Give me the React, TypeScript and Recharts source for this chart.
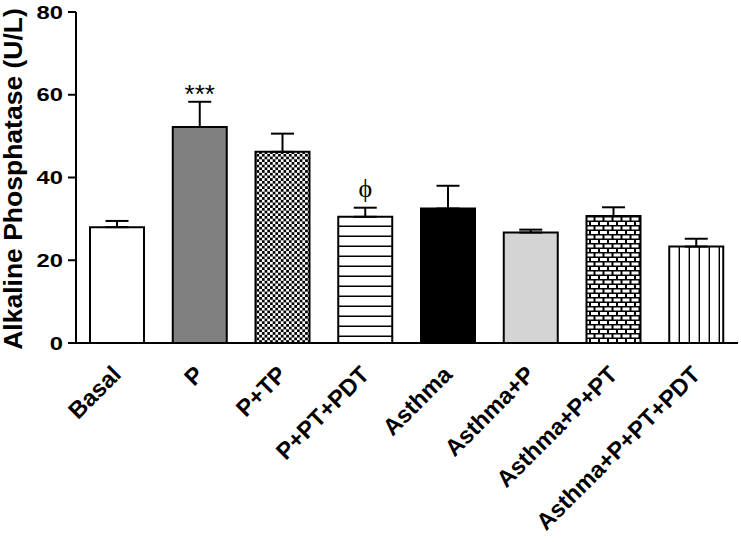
import React from 'react';
import { BarChart, Bar, XAxis, YAxis, Cell, ErrorBar, LabelList } from 'recharts';

const categories = ['Basal', 'P', 'P+TP', 'P+PT+PDT', 'Asthma', 'Asthma+P', 'Asthma+P+PT', 'Asthma+P+PT+PDT'];
const means = [28.0, 52.2, 46.2, 30.5, 32.5, 26.7, 30.7, 23.3];
const sems = [1.5, 6.1, 4.4, 2.2, 5.5, 0.7, 2.1, 1.9];
const annotations = ['', '***', '', '\u03D5', '', '', '', ''];
const yTicks = [0, 20, 40, 60, 80];

const fills = [
  '#ffffff',
  '#808080',
  'url(#checker)',
  'url(#hlines)',
  '#000000',
  '#d4d4d4',
  'url(#brick)',
  'url(#vlines)',
];

const data = categories.map((c, i) => ({
  name: c,
  mean: means[i],
  err: [0, sems[i]],
  ann: annotations[i],
}));

const FONT = '"Liberation Sans", Arial, Helvetica, sans-serif';

const YTick = (props: any) => {
  const { x, y, payload } = props;
  return (
    <text
      transform={`translate(${x},${y}) scale(1.25,1)`}
      textAnchor="end"
      dy="0.35em"
      fontSize={19}
      fontWeight="bold"
      fontFamily={FONT}
      fill="#000"
    >
      {payload.value}
    </text>
  );
};

const XTick = (props: any) => {
  const { x, y, payload } = props;
  return (
    <text
      transform={`translate(${x + 5},${y + 25}) rotate(-45)`}
      textAnchor="end"
      fontSize={23.5}
      fontWeight="bold"
      fontFamily={FONT}
      fill="#000"
    >
      {payload.value}
    </text>
  );
};

const YLabel = (props: any) => {
  const { viewBox } = props;
  const cx = viewBox.x + 22;
  const cy = viewBox.y + viewBox.height / 2 + 1.5;
  return (
    <text
      x={cx}
      y={cy}
      transform={`rotate(-90, ${cx}, ${cy})`}
      textAnchor="middle"
      fontSize={26.5}
      fontWeight="bold"
      fontFamily={FONT}
      fill="#000"
    >
      Alkaline Phosphatase (U/L)
    </text>
  );
};

const AnnLabel = (props: any) => {
  const { x, y, width, height, value, index } = props;
  if (!value) return null;
  const pxPerUnit = height / means[index];
  const errTop = y - sems[index] * pxPerUnit;
  const isStar = value === '***';
  return (
    <text
      x={x + width / 2}
      y={isStar ? errTop + 1 : errTop - 11}
      textAnchor="middle"
      fontSize={26}
      fontFamily={isStar ? FONT : '"Liberation Serif", "DejaVu Serif", serif'}
      fill="#000"
    >
      {value}
    </text>
  );
};

export default function App() {
  return (
    <div style={{ position: 'absolute', left: 0, top: 0, width: 741, height: 542, background: '#fff' }}>
      <svg width={0} height={0} style={{ position: 'absolute' }}>
        <defs>
          <pattern id="checker" patternUnits="userSpaceOnUse" width={5.4} height={5.4}>
            <rect x={0} y={0} width={5.4} height={5.4} fill="#fff" />
            <rect x={0} y={0} width={2.7} height={2.7} fill="#000" />
            <rect x={2.7} y={2.7} width={2.7} height={2.7} fill="#000" />
          </pattern>
          <pattern id="hlines" patternUnits="userSpaceOnUse" width={10} height={10}>
            <rect x={0} y={0} width={10} height={10} fill="#fff" />
            <rect x={0} y={5.5} width={10} height={1.5} fill="#000" />
          </pattern>
          <pattern id="vlines" patternUnits="userSpaceOnUse" width={10} height={10}>
            <rect x={0} y={0} width={10} height={10} fill="#fff" />
            <rect x={8.6} y={0} width={1.5} height={10} fill="#000" />
          </pattern>
          <pattern id="brick" patternUnits="userSpaceOnUse" width={18} height={9}>
            <rect x={0} y={0} width={18} height={9} fill="#000" />
            <rect x={1.5} y={1.5} width={7} height={3} fill="#fff" />
            <rect x={10.5} y={1.5} width={7} height={3} fill="#fff" />
            <rect x={-3} y={6} width={7} height={3} fill="#fff" />
            <rect x={6} y={6} width={7} height={3} fill="#fff" />
            <rect x={15} y={6} width={7} height={3} fill="#fff" />
          </pattern>
        </defs>
      </svg>
      <BarChart
        width={741}
        height={542}
        data={data}
        margin={{ top: 12, right: 3, bottom: 0, left: 0 }}
      >
        <XAxis
          dataKey="name"
          height={199}
          interval={0}
          tickLine={false}
          axisLine={{ stroke: '#000', strokeWidth: 2 }}
          tick={<XTick />}
        />
        <YAxis
          width={76}
          domain={[0, 80]}
          ticks={yTicks}
          interval={0}
          tickSize={8}
          tickMargin={5}
          axisLine={{ stroke: '#000', strokeWidth: 2 }}
          tickLine={{ stroke: '#000', strokeWidth: 2 }}
          tick={<YTick />}
          label={<YLabel />}
        />
        <Bar dataKey="mean" barSize={54} stroke="#000" strokeWidth={2} isAnimationActive={false}>
          {data.map((d, i) => (
            <Cell key={d.name} fill={fills[i]} />
          ))}
          <ErrorBar dataKey="err" direction="y" width={11.5} stroke="#000" strokeWidth={2} isAnimationActive={false} />
          <LabelList dataKey="ann" content={<AnnLabel />} />
        </Bar>
      </BarChart>
    </div>
  );
}
